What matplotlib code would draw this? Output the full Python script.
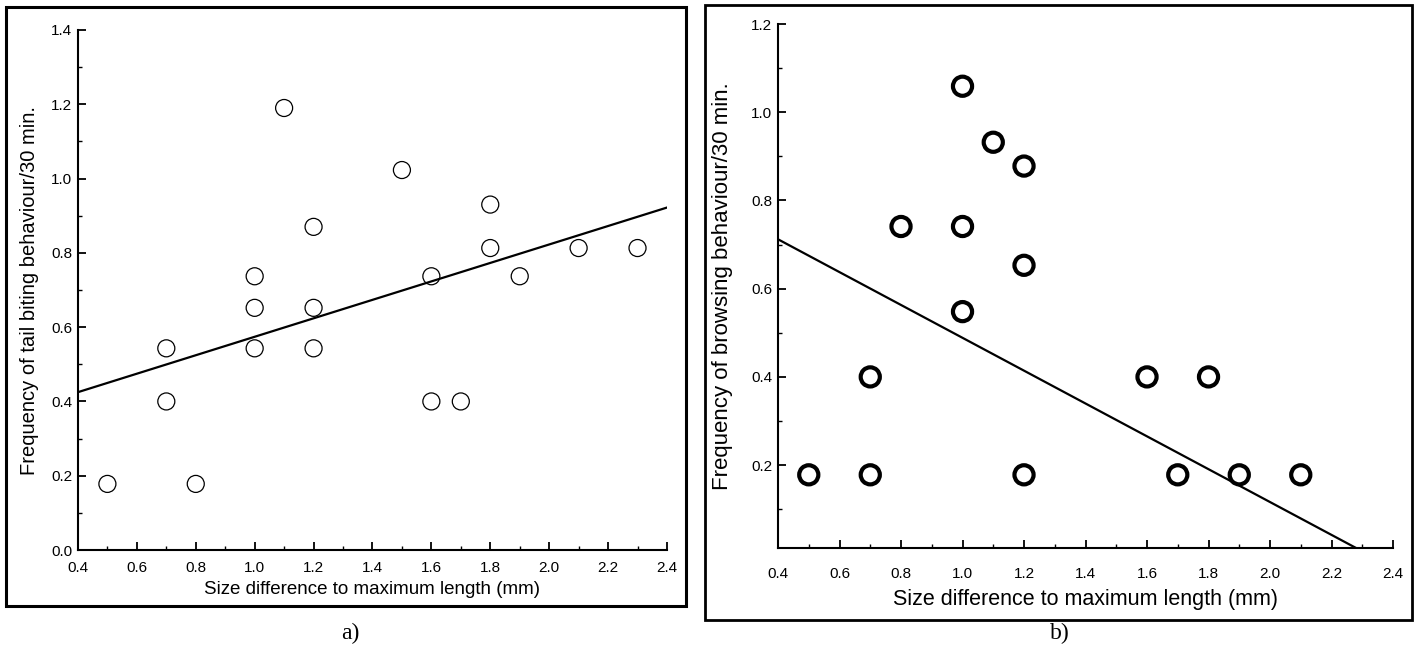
import matplotlib
matplotlib.use("Agg")
import matplotlib.pyplot as plt
from matplotlib.patches import Rectangle
from matplotlib.ticker import MultipleLocator, FormatStrFormatter

# ---- Data: panel a (tail biting) ----
a_x = [0.5, 0.7, 0.7, 0.8, 1.0, 1.0, 1.0, 1.1, 1.2, 1.2, 1.2, 1.5, 1.6, 1.6, 1.7, 1.8, 1.8, 1.9, 2.1, 2.3]
a_y = [0.178, 0.543, 0.40, 0.178, 0.737, 0.652, 0.543, 1.19, 0.87, 0.652, 0.543, 1.023, 0.737, 0.40, 0.40, 0.93, 0.813, 0.737, 0.813, 0.813]
a_fit_x = [0.4, 2.4]
a_fit_y = [0.425, 0.922]

# ---- Data: panel b (browsing) ----
b_x = [1.0, 1.1, 1.2, 0.8, 1.0, 1.2, 1.0, 0.7, 1.6, 1.8, 0.5, 0.7, 1.2, 1.7, 1.9, 2.1]
b_y = [1.059, 0.932, 0.878, 0.741, 0.741, 0.653, 0.548, 0.40, 0.40, 0.40, 0.178, 0.178, 0.178, 0.178, 0.178, 0.178]
b_fit_x = [0.4, 2.28]
b_fit_y = [0.712, 0.012]

x_label = "Size difference to maximum length (mm)"
a_ylabel = "Frequency of tail biting behaviour/30 min."
b_ylabel = "Frequency of browsing behaviour/30 min."

plt.rcParams['font.family'] = ['Liberation Sans', 'DejaVu Sans']

fig = plt.figure(figsize=(14.2, 6.68), dpi=100)

# outer frames
fig.patches.append(Rectangle((0.0042, 0.0928), 0.4789, 0.8967, transform=fig.transFigure,
                             fill=False, edgecolor='black', linewidth=2.2))
fig.patches.append(Rectangle((0.4965, 0.0719), 0.4979, 0.9206, transform=fig.transFigure,
                             fill=False, edgecolor='black', linewidth=2.0))

axa = fig.add_axes([0.0549, 0.1766, 0.4148, 0.7785])
axb = fig.add_axes([0.5479, 0.1796, 0.4331, 0.7844])


def style(ax, xlim, ylim, ymajor, lsize, xpad):
    ax.set_xlim(*xlim)
    ax.set_ylim(*ylim)
    for s in ['top', 'right']:
        ax.spines[s].set_visible(False)
    for s in ['left', 'bottom']:
        ax.spines[s].set_linewidth(1.5)
    ax.xaxis.set_major_locator(MultipleLocator(0.2))
    ax.xaxis.set_minor_locator(MultipleLocator(0.1))
    ax.yaxis.set_major_locator(MultipleLocator(ymajor))
    ax.yaxis.set_minor_locator(MultipleLocator(0.1))
    ax.xaxis.set_major_formatter(FormatStrFormatter('%.1f'))
    ax.yaxis.set_major_formatter(FormatStrFormatter('%.1f'))
    ax.tick_params(which='major', direction='in', length=6, width=1.3, labelsize=lsize)
    ax.tick_params(which='minor', direction='in', length=3, width=1.0)
    ax.tick_params(axis='x', which='major', pad=xpad)
    ax.tick_params(axis='y', which='major', pad=4)


style(axa, (0.4, 2.4), (0.0, 1.4), 0.2, 11, 8)
axa.scatter(a_x, a_y, s=150, facecolors='none', edgecolors='black', linewidths=0.9, zorder=3, clip_on=False)
axa.plot(a_fit_x, a_fit_y, color='black', linewidth=1.6)
axa.set_xlabel(x_label, fontsize=13.5, va='center')
axa.xaxis.set_label_coords(0.5, -0.075)
axa.set_ylabel(a_ylabel, fontsize=14.5, va='center')
axa.yaxis.set_label_coords(-0.0815, 0.5)

style(axb, (0.4, 2.4), (0.012, 1.2), 0.2, 11, 14)
axb.scatter(b_x, b_y, s=190, facecolors='none', edgecolors='black', linewidths=3.0, zorder=3, clip_on=False)
axb.plot(b_fit_x, b_fit_y, color='black', linewidth=1.6)
axb.set_xlabel(x_label, fontsize=15.5, va='center')
axb.xaxis.set_label_coords(0.5, -0.099)
axb.set_ylabel(b_ylabel, fontsize=16, va='center')
axb.yaxis.set_label_coords(-0.091, 0.5)

fig.text(0.2465, 0.052, "a)", fontsize=17, family='Liberation Serif', ha='center', va='center')
fig.text(0.7465, 0.052, "b)", fontsize=17, family='Liberation Serif', ha='center', va='center')

fig.savefig("out.png", dpi=100)
